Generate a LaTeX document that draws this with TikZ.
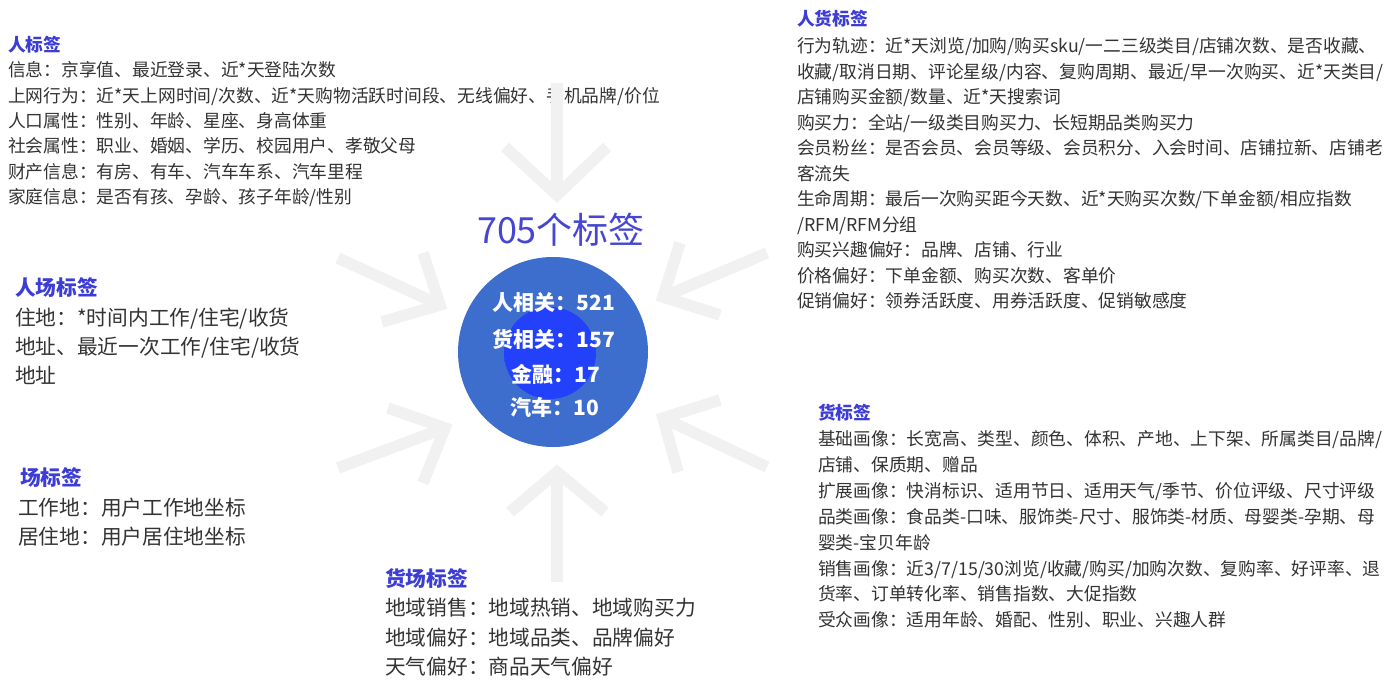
\documentclass[tikz,border=0pt]{standalone}
\usepackage{fontspec}
\newfontfamily\cjk{Noto Sans CJK SC}
\definecolor{txt}{RGB}{51,51,51}
\definecolor{head}{RGB}{60,60,215}
\definecolor{ttl}{RGB}{70,70,210}
\definecolor{circ}{RGB}{62,110,205}
\definecolor{blob}{RGB}{35,65,250}
\definecolor{arrgray}{RGB}{241,241,241}
\pgfdeclareradialshading{blobshade}{\pgfpoint{0bp}{0bp}}{color(0bp)=(blob); color(28bp)=(blob); color(50bp)=(circ)}
\tikzset{
  sm/.style={anchor=base west, inner sep=0pt, text=txt, font=\cjk\fontsize{17.75}{22}\selectfont},
  lg/.style={anchor=base west, inner sep=0pt, text=txt, font=\cjk\fontsize{20.7}{24}\selectfont},
  hsm/.style={anchor=base west, inner sep=0pt, text=head, font=\cjk\bfseries\fontsize{17.75}{22}\selectfont},
  hlg/.style={anchor=base west, inner sep=0pt, text=head, font=\cjk\bfseries\fontsize{20.7}{24}\selectfont},
  ctext/.style={anchor=base, inner sep=0pt, text=white, font=\cjk\bfseries\fontsize{21}{24}\selectfont},
  arr/.style={draw=arrgray, line width=11.5pt, line join=miter},
}
\begin{document}
\begin{tikzpicture}[x=1pt,y=-1pt]
\useasboundingbox (0,0) rectangle (1395,698);
\fill[white] (0,0) rectangle (1395,698);

% top-left block
\node[hsm] (hpeople) at (8,{45+6.7}) {人标签};
\foreach \t [count=\i from 0] in {信息：京享值、最近登录、近*天登陆次数,
  上网行为：近*天上网时间/次数、近*天购物活跃时间段、无线偏好、手机品牌/价位,
  人口属性：性别、年龄、星座、身高体重,
  社会属性：职业、婚姻、学历、校园用户、孝敬父母,
  财产信息：有房、有车、汽车车系、汽车里程,
  家庭信息：是否有孩、孕龄、孩子年龄/性别}
  \node[sm] (tl\i) at (8,{70+25.4*\i+6.7}) {\t};

% top-right block
\node[hsm] (hpg) at (797,{19+6.7}) {人货标签};
\foreach \t [count=\i from 0] in {行为轨迹：近*天浏览/加购/购买sku/一二三级类目/店铺次数、是否收藏、,
  收藏/取消日期、评论星级/内容、复购周期、最近/早一次购买、近*天类目/,
  店铺购买金额/数量、近*天搜索词,
  购买力：全站/一级类目购买力、长短期品类购买力,
  会员粉丝：是否会员、会员等级、会员积分、入会时间、店铺拉新、店铺老,
  客流失,
  生命周期：最后一次购买距今天数、近*天购买次数/下单金额/相应指数,
  /RFM/RFM分组,
  购买兴趣偏好：品牌、店铺、行业,
  价格偏好：下单金额、购买次数、客单价,
  促销偏好：领券活跃度、用券活跃度、促销敏感度}
  \node[sm] (tr\i) at (797,{46+25.5*\i+6.7}) {\t};

% middle-left block
\node[hlg] (hps) at (15,{288+7.8}) {人场标签};
\foreach \t [count=\i from 0] in {住地：*时间内工作/住宅/收货,
  地址、最近一次工作/住宅/收货,
  地址}
  \node[lg] (ml\i) at (15,{318+29*\i+7.8}) {\t};

% bottom-left block
\node[hlg] (hs) at (20,{478+7.8}) {场标签};
\foreach \t [count=\i from 0] in {工作地：用户工作地坐标,
  居住地：用户居住地坐标}
  \node[lg] (bl\i) at (18,{508+29*\i+7.8}) {\t};

% bottom-center block
\node[hlg] (hgs) at (385,{579+7.8}) {货场标签};
\foreach \t [count=\i from 0] in {地域销售：地域热销、地域购买力,
  地域偏好：地域品类、品牌偏好,
  天气偏好：商品天气偏好}
  \node[lg] (bc\i) at (385,{608+29.5*\i+7.8}) {\t};

% bottom-right block
\node[hsm] (hg) at (818,{413+6.7}) {货标签};
\foreach \t [count=\i from 0] in {基础画像：长宽高、类型、颜色、体积、产地、上下架、所属类目/品牌/,
  店铺、保质期、赠品,
  扩展画像：快消标识、适用节日、适用天气/季节、价位评级、尺寸评级,
  品类画像：食品类-口味、服饰类-尺寸、服饰类-材质、母婴类-孕期、母,
  婴类-宝贝年龄,
  销售画像：近3/7/15/30浏览/收藏/购买/加购次数、复购率、好评率、退,
  货率、订单转化率、销售指数、大促指数,
  受众画像：适用年龄、婚配、性别、职业、兴趣人群}
  \node[sm] (br\i) at (818,{439+25.86*\i+6.7}) {\t};

% arrows
\coordinate (aTs) at (557,83);  \coordinate (aTt) at (557,195);
\coordinate (aTw1) at (505,147); \coordinate (aTw2) at (607,147);
\draw[arr] (aTs) -- (aTt);
\draw[arr] (aTw1) -- (aTt) -- (aTw2);

\coordinate (aULs) at (338,258); \coordinate (aULt) at (440,305);
\coordinate (aULw1) at (423,253); \coordinate (aULw2) at (382,322);
\draw[arr] (aULs) -- (aULt);
\draw[arr] (aULw1) -- (aULt) -- (aULw2);

\coordinate (aURs) at (767,253); \coordinate (aURt) at (663,297);
\coordinate (aURw1) at (680,243); \coordinate (aURw2) at (720,315);
\draw[arr] (aURs) -- (aURt);
\draw[arr] (aURw1) -- (aURt) -- (aURw2);

\coordinate (aLLs) at (338,468); \coordinate (aLLt) at (445,428);
\coordinate (aLLw1) at (388,408); \coordinate (aLLw2) at (423,483);
\draw[arr] (aLLs) -- (aLLt);
\draw[arr] (aLLw1) -- (aLLt) -- (aLLw2);

\coordinate (aLRs) at (767,467); \coordinate (aLRt) at (663,418);
\coordinate (aLRw1) at (720,400); \coordinate (aLRw2) at (678,472);
\draw[arr] (aLRs) -- (aLRt);
\draw[arr] (aLRw1) -- (aLRt) -- (aLRw2);

\coordinate (aBs) at (557,582); \coordinate (aBt) at (557,472);
\coordinate (aBw1) at (510,512); \coordinate (aBw2) at (605,512);
\draw[arr] (aBs) -- (aBt);
\draw[arr] (aBw1) -- (aBt) -- (aBw2);

% centre
\node[anchor=base, inner sep=0pt, text=ttl, font=\cjk\fontsize{36}{40}\selectfont] (title) at (561,{230+13.5}) {705个标签};
\node[circle, fill=circ, minimum size=190pt, inner sep=0pt] (c) at (553,352) {};
\shade[shading=blobshade] (550,353) circle (46);
\node[ctext] (c1) at (554,{302+8}) {人相关：521};
\node[ctext] (c2) at (554,{339+8}) {货相关：157};
\node[ctext] (c3) at (556,{374+8}) {金融：17};
\node[ctext] (c4) at (555,{407+8}) {汽车：10};
\end{tikzpicture}
\end{document}
